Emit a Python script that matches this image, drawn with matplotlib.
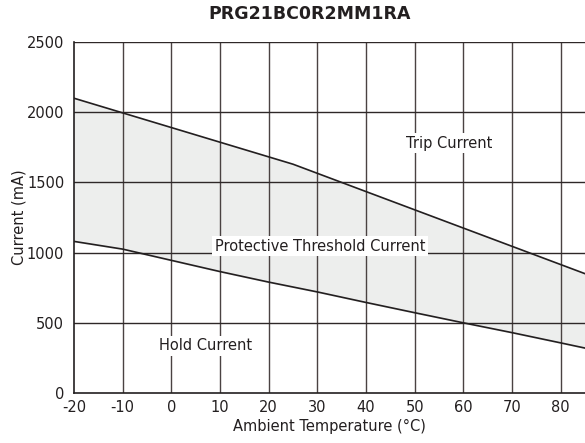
import numpy as np
import matplotlib.pyplot as plt

plt.rcParams['font.family'] = ['DejaVu Sans']
plt.rcParams['axes.unicode_minus'] = False

# data
temp_trip = [-20, 25, 85]
trip_current = [2100, 1630, 850]
temp_hold = [-20, -10, 0, 10, 20, 30, 40, 50, 60, 70, 80, 85]
hold_current = [1080, 1025, 945, 865, 790, 720, 645, 572, 500, 430, 357, 320]
xticks = list(range(-20, 81, 10))
yticks = [0, 500, 1000, 1500, 2000, 2500]

ink = '#231f20'
fig = plt.figure(figsize=(5.85, 4.43), dpi=100)
ax = fig.add_axes([0.1265, 0.1129, 0.8735, 0.7921])

x = np.array(temp_hold, dtype=float)
trip_interp = np.interp(x, temp_trip, trip_current)
ax.fill_between(x, hold_current, trip_interp, color='#edeeed', zorder=1)

for t in xticks[1:]:
    ax.axvline(t, color='#4a4242', lw=1.0, zorder=2)
for c in yticks[1:]:
    ax.axhline(c, color='#2e2828', lw=1.0, zorder=2)

ax.plot(temp_trip, trip_current, color=ink, lw=1.2, zorder=3)
ax.plot(temp_hold, hold_current, color=ink, lw=1.2, zorder=3)

box = dict(facecolor='white', edgecolor='none', pad=2)
ax.text(57, 1780, 'Trip Current', ha='center', va='center', fontsize=10.5,
        color=ink, bbox=box, zorder=4)
ax.text(30.5, 1047, 'Protective Threshold Current', ha='center', va='center',
        fontsize=10.5, color=ink, bbox=box, zorder=4)
ax.text(7, 335, 'Hold Current', ha='center', va='center', fontsize=10.5,
        color=ink, bbox=box, zorder=4)

ax.set_xlim(-20, 85)
ax.set_ylim(0, 2500)
ax.set_xticks(xticks)
ax.set_yticks(yticks)
ax.tick_params(length=0, labelsize=10.5, colors=ink)
ax.tick_params(axis='x', pad=5)
ax.tick_params(axis='y', pad=7)
for s in ['top', 'right']:
    ax.spines[s].set_visible(False)
for s in ['left', 'bottom']:
    ax.spines[s].set_color(ink)
    ax.spines[s].set_linewidth(1.2)

ax.set_xlabel('Ambient Temperature (°C)', fontsize=10.5, color=ink, labelpad=3)
ax.set_ylabel('Current (mA)', fontsize=10.5, color=ink, labelpad=0)
fig.text(310 / 585, 1 - 14 / 443, 'PRG21BC0R2MM1RA', ha='center', va='center',
         fontsize=12.5, fontweight='bold', color=ink)

fig.savefig('out.png', dpi=100)
